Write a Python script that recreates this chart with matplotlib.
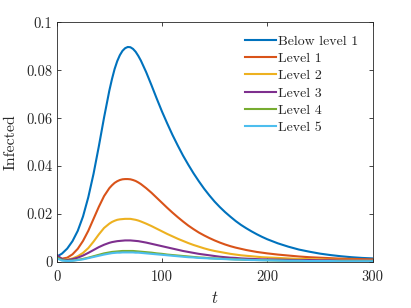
import matplotlib
matplotlib.use("Agg")
import matplotlib.pyplot as plt

plt.rcParams['mathtext.fontset'] = 'cm'
plt.rcParams['font.family'] = ['cmr10', 'DejaVu Serif']
plt.rcParams['axes.unicode_minus'] = False

t = [0, 5, 10, 15, 20, 25, 30, 35, 40, 45, 50, 52.5, 55, 57.5, 60, 62.5, 65, 67.5, 70,
     72.5, 75, 77.5, 80, 85, 90, 95,
     100, 105, 110, 115, 120, 125, 130, 135, 140, 145, 150, 155, 160, 165, 170, 175,
     180, 185, 190, 195, 200, 210, 220, 230, 240, 250, 260, 270, 280, 290, 300]

below_level_1 = [0.0022, 0.0035, 0.0056, 0.0087, 0.0130, 0.0190, 0.0270, 0.0368, 0.0482, 0.0603,
                 0.0715, 0.0763, 0.0805, 0.0838, 0.0863, 0.0881, 0.0892, 0.0897, 0.0896,
                 0.0889, 0.0877, 0.0860, 0.0840, 0.0792, 0.0738, 0.0682,
                 0.0628, 0.0578, 0.0530, 0.0486, 0.0444, 0.0406, 0.0370, 0.0337, 0.0306, 0.0278,
                 0.0252, 0.0229, 0.0208, 0.0189, 0.0171, 0.0155, 0.0141, 0.0128, 0.0116, 0.0105,
                 0.0095, 0.0078, 0.0064, 0.0052, 0.0043, 0.0035, 0.0029, 0.0024, 0.0020, 0.0017,
                 0.0015]
level_1 = [0.0022, 0.0014, 0.0018, 0.0032, 0.0055, 0.0088, 0.0130, 0.0180, 0.0230, 0.0275,
           0.0308, 0.0320, 0.0330, 0.0337, 0.0342, 0.0345, 0.0346, 0.0346, 0.0345,
           0.0342, 0.0338, 0.0332, 0.0325, 0.0308, 0.0289, 0.0268,
           0.0247, 0.0226, 0.0206, 0.0187, 0.0169, 0.0152, 0.0137, 0.0123, 0.0111, 0.0100,
           0.0090, 0.0081, 0.0073, 0.0066, 0.0060, 0.0055, 0.0050, 0.0046, 0.0042, 0.0039,
           0.0036, 0.0031, 0.0027, 0.0023, 0.0020, 0.0018, 0.0016, 0.0014, 0.0013, 0.0012,
           0.0011]
level_2 = [0.0026, 0.0012, 0.0010, 0.0015, 0.0024, 0.0038, 0.0058, 0.0085, 0.0115, 0.0142,
           0.0160, 0.0167, 0.0172, 0.0176, 0.0178, 0.0179, 0.0180, 0.0180, 0.0180,
           0.0178, 0.0176, 0.0173, 0.0169, 0.0160, 0.0150, 0.0139,
           0.0128, 0.0117, 0.0107, 0.0097, 0.0088, 0.0079, 0.0071, 0.0064, 0.0057, 0.0051,
           0.0046, 0.0042, 0.0038, 0.0034, 0.0031, 0.0028, 0.0026, 0.0024, 0.0022, 0.0020,
           0.0019, 0.0017, 0.0015, 0.0013, 0.0012, 0.0011, 0.0010, 0.0009, 0.0009, 0.0008,
           0.0008]
level_3 = [0.0030, 0.0012, 0.0008, 0.0012, 0.0018, 0.0027, 0.0038, 0.0050, 0.0062, 0.0072,
           0.0080, 0.0083, 0.0085, 0.0087, 0.0088, 0.0089, 0.0090, 0.0090, 0.0090,
           0.0089, 0.0088, 0.0087, 0.0085, 0.0081, 0.0076, 0.0071,
           0.0066, 0.0061, 0.0056, 0.0051, 0.0046, 0.0042, 0.0038, 0.0034, 0.0031, 0.0028,
           0.0025, 0.0022, 0.0020, 0.0018, 0.0017, 0.0015, 0.0014, 0.0013, 0.0012, 0.0011,
           0.0011, 0.0010, 0.0009, 0.0008, 0.0008, 0.0007, 0.0007, 0.0006, 0.0006, 0.0006,
           0.0006]
level_4 = [0.0020, 0.0008, 0.0005, 0.0006, 0.0009, 0.0013, 0.0018, 0.0024, 0.0030, 0.0036,
           0.0040, 0.0042, 0.0043, 0.0044, 0.0045, 0.0046, 0.0046, 0.0046, 0.0046,
           0.0046, 0.0045, 0.0044, 0.0043, 0.0041, 0.0039, 0.0036,
           0.0034, 0.0031, 0.0029, 0.0027, 0.0025, 0.0023, 0.0021, 0.0019, 0.0018, 0.0016,
           0.0015, 0.0014, 0.0013, 0.0012, 0.0011, 0.0010, 0.0009, 0.0009, 0.0008, 0.0008,
           0.0007, 0.0006, 0.0005, 0.0005, 0.0004, 0.0004, 0.0004, 0.0003, 0.0003, 0.0003,
           0.0003]
level_5 = [0.0015, 0.0006, 0.0004, 0.0005, 0.0008, 0.0011, 0.0016, 0.0021, 0.0026, 0.0031,
           0.0035, 0.0037, 0.0038, 0.0039, 0.0039, 0.0040, 0.0040, 0.0040, 0.0040,
           0.0040, 0.0039, 0.0039, 0.0038, 0.0036, 0.0034, 0.0032,
           0.0030, 0.0028, 0.0026, 0.0024, 0.0022, 0.0020, 0.0019, 0.0017, 0.0016, 0.0015,
           0.0014, 0.0013, 0.0012, 0.0011, 0.0010, 0.0010, 0.0009, 0.0008, 0.0008, 0.0007,
           0.0007, 0.0006, 0.0005, 0.0005, 0.0004, 0.0004, 0.0004, 0.0003, 0.0003, 0.0003,
           0.0003]

series_labels = ['Below level 1', 'Level 1', 'Level 2', 'Level 3', 'Level 4', 'Level 5']
series = [below_level_1, level_1, level_2, level_3, level_4, level_5]
colors = ['#0072BD', '#D95319', '#EDB120', '#7E2F8E', '#77AC30', '#4DBEEE']

x_ticks = [0, 100, 200, 300]
x_tick_labels = ['0', '100', '200', '300']
y_ticks = [0, 0.02, 0.04, 0.06, 0.08, 0.1]
y_tick_labels = ['0', '0.02', '0.04', '0.06', '0.08', '0.1']

W, H = 411, 308
fig = plt.figure(figsize=(W / 100, H / 100), dpi=100)
ax = fig.add_axes([56.7 / W, 1 - 262 / H, (372.5 - 56.7) / W, (262 - 22.3) / H])

for lab, ys, c in zip(series_labels, series, colors):
    ax.plot(t, ys, color=c, lw=1.5, label=lab, solid_joinstyle='round')

ax.set_xlim(0, 300)
ax.set_ylim(0, 0.1)
ax.set_xticks(x_ticks)
ax.set_xticklabels(x_tick_labels)
ax.set_yticks(y_ticks)
ax.set_yticklabels(y_tick_labels)
ax.tick_params(direction='in', length=2.8, width=0.6, color='#262626',
               labelsize=10.5, labelcolor='#262626', top=True, right=True)
ax.tick_params(axis='x', pad=6)
ax.tick_params(axis='y', pad=3)
for s in ax.spines.values():
    s.set_linewidth(0.6)
    s.set_color('#262626')

ax.set_xlabel(r'$t$', fontsize=12, color='#262626', labelpad=4)
ax.set_ylabel('Infected', fontsize=11.5, color='#262626', labelpad=6)

leg = ax.legend(loc='upper left', bbox_to_anchor=(245 / W, 1 - 35 / H),
                bbox_transform=fig.transFigure, frameon=False, fontsize=10,
                handlelength=2.2, handletextpad=0.2, labelspacing=0.33,
                borderaxespad=0, borderpad=0)
for txt in leg.get_texts():
    txt.set_color('#262626')

fig.savefig('out.png', dpi=100)
